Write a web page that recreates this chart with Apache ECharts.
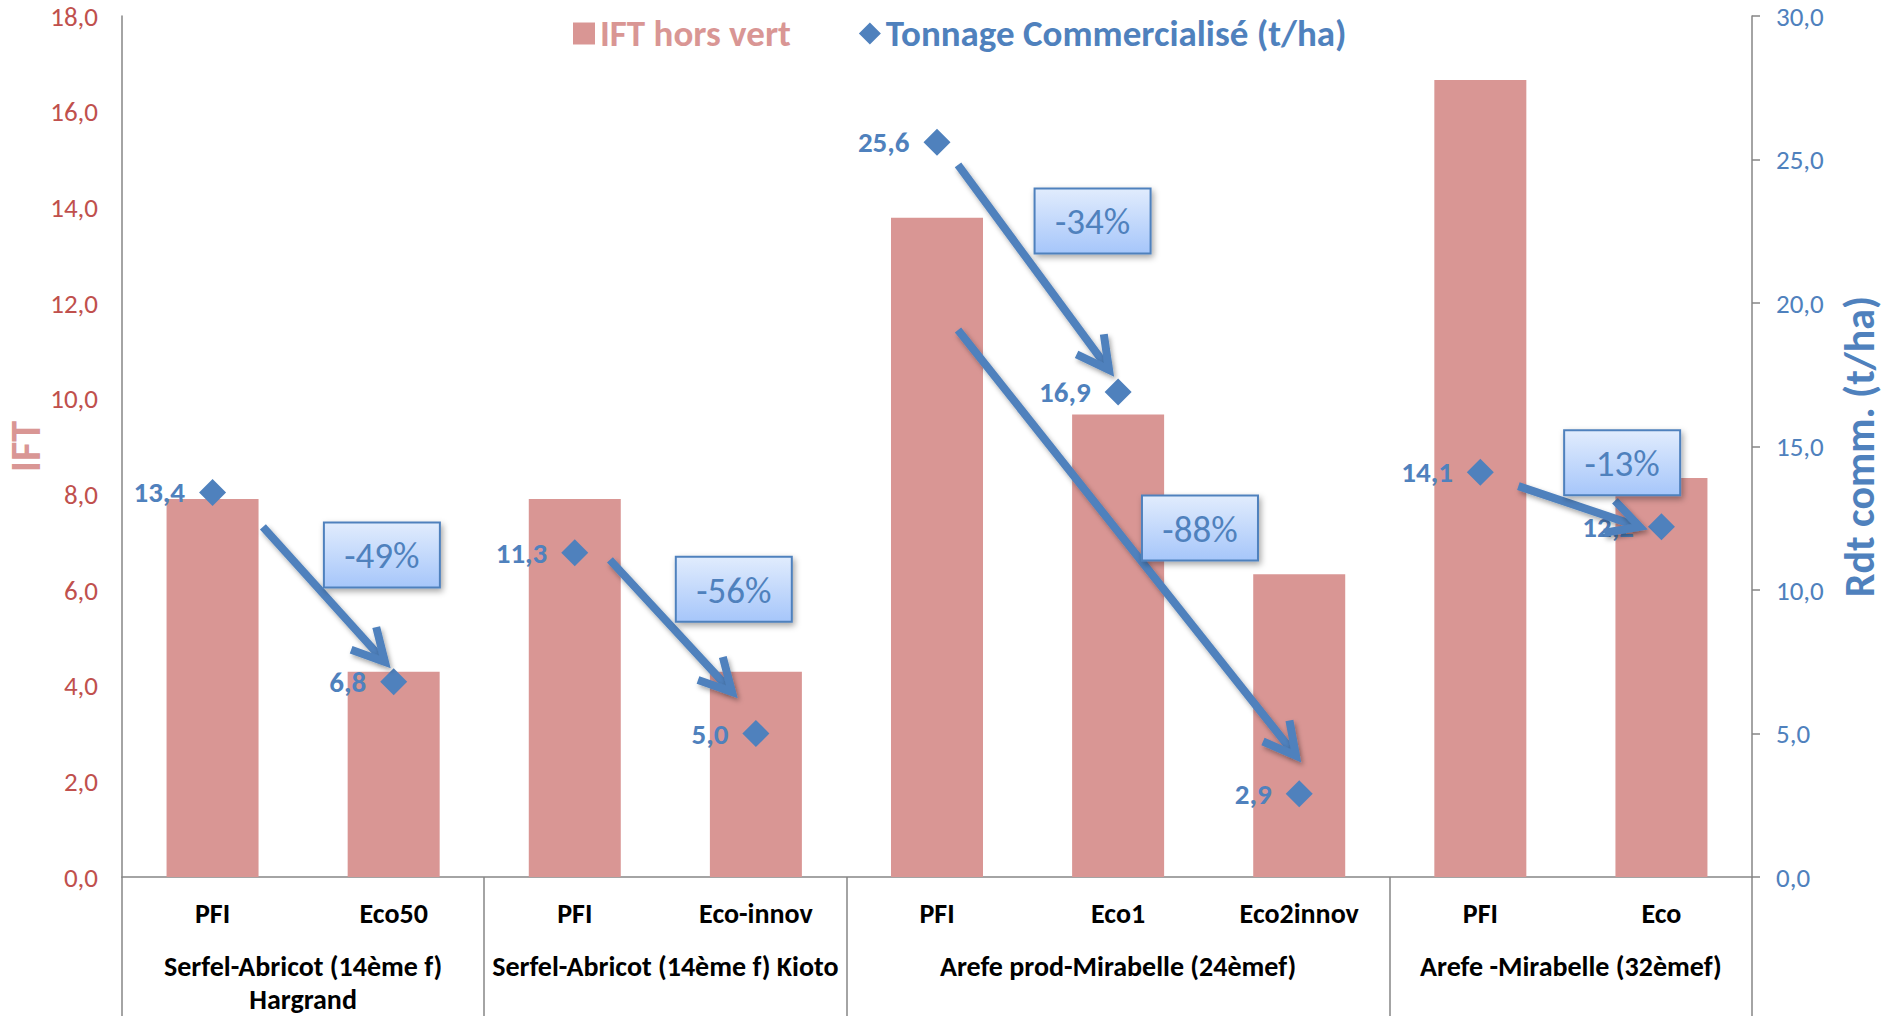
<!DOCTYPE html>
<html><head><meta charset="utf-8">
<script src="https://cdn.jsdelivr.net/npm/echarts@6/dist/echarts.min.js"></script>
<style>html,body{margin:0;padding:0;background:#fff}#chart{width:1895px;height:1016px}</style>
</head><body><div id="chart"></div>
<script>
// ---- data ----
const categories = ['PFI', 'Eco50', 'PFI', 'Eco-innov', 'PFI', 'Eco1', 'Eco2innov', 'PFI', 'Eco'];
const groupNames = ['Serfel-Abricot (14ème f)\nHargrand', 'Serfel-Abricot (14ème f) Kioto', 'Arefe prod-Mirabelle (24èmef)', 'Arefe -Mirabelle (32èmef)'];
const groupSizes = [2, 2, 3, 2];
const iftHorsVert = [7.9, 4.29, 7.9, 4.29, 13.78, 9.67, 6.33, 16.66, 8.34];
const tonnage = [13.4, 6.8, 11.3, 5.0, 25.6, 16.9, 2.9, 14.1, 12.2];
const iftTicks = { min: 0, max: 18, step: 2 };
const rdtTicks = { min: 0, max: 30, step: 5 };
// annotation arrows (category index, t/ha)
const arrowStarts = [[0.278, 12.2], [2.194, 11.05], [4.116, 24.81], [4.116, 19.06], [7.21, 13.62]];
const arrowEnds = [[0.952, 7.49], [2.868, 6.45], [4.95, 17.67], [5.982, 4.22], [7.88, 12.2]];
const changeLabels = ['-49%', '-56%', '-34%', '-88%', '-13%'];
const changeX = [0.935, 2.878, 4.859, 5.452, 7.783];
const changeY = [11.22, 10.03, 22.86, 12.16, 14.43];

// ---- derived ----
const FONT = 'Carlito, Lato, sans-serif';
const fmt = v => Number(v).toFixed(1).replace('.', ',');
const groupStarts = [];
const groupCenters = [];
(function () { let s = 0; groupSizes.forEach(n => { groupStarts.push(s); groupCenters.push(s + (n - 1) / 2); s += n; }); })();
const groupLabelFor = v => { const i = groupCenters.findIndex(c => Math.abs(c - v) < 1e-6); return i >= 0 ? groupNames[i] : ''; };

const BLUE = '#4F81BD', PINK = '#D99694', RED = '#C0504D', GREY = '#868686';

const chart = echarts.init(document.getElementById('chart'), null, { renderer: 'svg' });
chart.setOption({
  animation: false,
  backgroundColor: '#fff',
  grid: { left: 122, right: 143, top: 16, bottom: 139, containLabel: false, outerBoundsMode: 'none' },
  legend: {
    left: 568, top: 10, itemGap: 68, itemWidth: 22, itemHeight: 22,
    textStyle: { fontFamily: FONT, fontWeight: 'bold', fontSize: 37 },
    data: [
      { name: 'IFT hors vert', icon: 'rect', textStyle: { color: PINK } },
      { name: 'Tonnage Commercialisé (t/ha)', icon: 'diamond', textStyle: { color: BLUE } }
    ]
  },
  xAxis: [
    {
      type: 'category', data: categories, position: 'bottom',
      axisLine: { show: true, onZero: false, lineStyle: { color: GREY, width: 1.5 } },
      axisTick: { show: true, alignWithLabel: false, length: 145, interval: idx => groupStarts.indexOf(idx) >= 0, lineStyle: { color: GREY, width: 1.5 } },
      axisLabel: { interval: 0, margin: 22, fontFamily: FONT, fontWeight: 'bold', fontSize: 28, color: '#000' },
      splitLine: { show: false }
    },
    {
      type: 'value', position: 'bottom', min: -0.5, max: 8.5, interval: 0.5,
      axisLine: { show: false, onZero: false }, axisTick: { show: false }, splitLine: { show: false },
      axisLabel: { formatter: groupLabelFor, margin: 73, fontFamily: FONT, fontWeight: 'bold', fontSize: 28, lineHeight: 33, color: '#000', showMinLabel: true, showMaxLabel: true }
    }
  ],
  yAxis: [
    {
      type: 'value', position: 'left', min: iftTicks.min, max: iftTicks.max, interval: iftTicks.step,
      name: 'IFT', nameLocation: 'middle', nameRotate: 90, nameGap: 76, nameMoveOverlap: false,
      nameTextStyle: { fontFamily: FONT, fontWeight: 'bold', fontSize: 42, color: PINK },
      axisLine: { show: true, onZero: false, lineStyle: { color: GREY, width: 1.5 } },
      axisTick: { show: false }, splitLine: { show: false },
      axisLabel: { formatter: fmt, margin: 24, fontFamily: FONT, fontSize: 27, color: RED }
    },
    {
      type: 'value', position: 'right', min: rdtTicks.min, max: rdtTicks.max, interval: rdtTicks.step,
      name: 'Rdt comm. (t/ha)', nameLocation: 'middle', nameRotate: 90, nameGap: 86,
      nameTextStyle: { fontFamily: FONT, fontWeight: 'bold', fontSize: 42, color: BLUE },
      axisLine: { show: true, onZero: false, lineStyle: { color: GREY, width: 1.5 } },
      axisTick: { show: true, length: 8, lineStyle: { color: GREY, width: 1.5 } },
      splitLine: { show: false },
      axisLabel: { formatter: fmt, margin: 24, fontFamily: FONT, fontSize: 27, color: BLUE }
    }
  ],
  series: [
    {
      name: 'IFT hors vert', type: 'bar', xAxisIndex: 0, yAxisIndex: 0, z: 2,
      data: iftHorsVert, barWidth: 92, itemStyle: { color: PINK }
    },
    {
      name: 'Tonnage Commercialisé (t/ha)', type: 'scatter', xAxisIndex: 0, yAxisIndex: 1, z: 3,
      data: tonnage, symbol: 'diamond', symbolSize: 27, itemStyle: { color: BLUE, opacity: 1 },
      label: {
        show: true, position: 'left', distance: 14,
        formatter: p => '{v|' + fmt(p.value) + '}',
        rich: { v: { fontFamily: FONT, fontWeight: 'bold', fontSize: 29, color: BLUE } }
      }
    },
    {
      type: 'custom', xAxisIndex: 1, yAxisIndex: 1, z: 4, silent: true,
      data: arrowStarts.map((s, i) => [s[0], s[1], arrowEnds[i][0], arrowEnds[i][1]]),
      renderItem: (params, api) => {
        const p1 = api.coord([api.value(0), api.value(1)]);
        const p2 = api.coord([api.value(2), api.value(3)]);
        const ang = Math.atan2(p1[1] - p2[1], p1[0] - p2[0]);
        const L = 36, a = 28 * Math.PI / 180;
        const h1 = [p2[0] + L * Math.cos(ang + a), p2[1] + L * Math.sin(ang + a)];
        const h2 = [p2[0] + L * Math.cos(ang - a), p2[1] + L * Math.sin(ang - a)];
        const pe = [p2[0] + 4 * Math.cos(ang), p2[1] + 4 * Math.sin(ang)];
        const style = { stroke: BLUE, lineWidth: 8, fill: null, lineJoin: 'miter', lineCap: 'butt',
          shadowBlur: 5, shadowColor: 'rgba(0,0,0,0.35)', shadowOffsetX: 2, shadowOffsetY: 3 };
        return { type: 'group', children: [
          { type: 'polyline', shape: { points: [p1, pe] }, style: style },
          { type: 'polyline', shape: { points: [h1, p2, h2] }, style: style }
        ] };
      }
    },
    {
      type: 'custom', xAxisIndex: 1, yAxisIndex: 1, z: 5, silent: true,
      data: changeX.map((x, i) => [x, changeY[i]]),
      renderItem: (params, api) => {
        const c = api.coord([api.value(0), api.value(1)]);
        const w = 116, h = 65;
        return { type: 'group', children: [
          { type: 'rect', shape: { x: c[0] - w / 2, y: c[1] - h / 2, width: w, height: h },
            style: { fill: new echarts.graphic.LinearGradient(0, 0, 0, 1, [{ offset: 0, color: '#E1ECFD' }, { offset: 1, color: '#A6C6FA' }]),
              stroke: BLUE, lineWidth: 2, shadowBlur: 6, shadowColor: 'rgba(0,0,0,0.35)', shadowOffsetX: 2, shadowOffsetY: 3 } },
          { type: 'text', x: c[0], y: c[1] + 1,
            style: { text: changeLabels[params.dataIndex], fill: BLUE, fontFamily: FONT, fontSize: 37, align: 'center', verticalAlign: 'middle' } }
        ] };
      }
    }
  ]
});
</script></body></html>
